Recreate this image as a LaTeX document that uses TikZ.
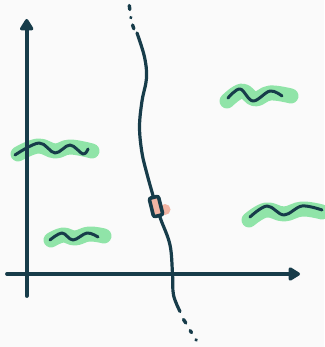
\documentclass[tikz,border=0pt]{standalone}
\usetikzlibrary{arrows.meta}
\definecolor{ink}{HTML}{173C4A}
\definecolor{hl}{HTML}{90E4A8}
\definecolor{pinkc}{HTML}{F3B5A4}
\definecolor{bg}{HTML}{FAFAFA}
\tikzset{
  axis/.style={ink, line width=3.8pt, line cap=round, -{Triangle[length=13pt,width=15pt,round]}},
  curve/.style={ink, line width=3.2pt, line cap=round},
  glow/.style={hl, line width=15pt, line cap=round, line join=round},
  wave/.style={ink, line width=3pt, line cap=round, line join=round},
  dotseg/.style={ink, line width=3.4pt, line cap=round},
}
\begin{document}
\begin{tikzpicture}[x=1pt,y=-1pt]
\fill[bg] (0,0) rectangle (324,347);
\useasboundingbox (0,0) rectangle (324,347);
% axes
\coordinate (yb) at (26.7,296);
\coordinate (yt) at (26.7,19);
\coordinate (xl) at (7,274);
\coordinate (xr) at (300,274);
% highlights
\draw[glow] plot[smooth, tension=0.7] coordinates {(227,101) (242,91) (255,99) (270,93) (291,96)};
\draw[glow] plot[smooth, tension=0.7] coordinates {(249,220) (266,210) (284,214) (302,209) (322,212)};
\draw[glow] plot[smooth, tension=0.7] coordinates {(18,154) (38,146) (55,151) (70,147) (92,151)};
\draw[glow] plot[smooth, tension=0.7] coordinates {(51,240) (63,235) (75,238) (89,234) (104,236)};
% waves
\draw[wave] plot[smooth, tension=0.6] coordinates {(228,98) (240,89) (253,101) (270,91) (282,96)};
\draw[wave] plot[smooth, tension=0.6] coordinates {(250,217) (267,206) (284,215) (302,206) (322,210)};
\draw[wave] plot[smooth, tension=0.6] coordinates {(15,155) (39,143) (55,153) (70,145) (83,154) (88,149)};
\draw[wave] plot[smooth, tension=0.6] coordinates {(50,240) (62,233) (73,240) (87,233) (98,237)};
% axes drawn
\draw[axis] (yb) -- (yt);
\draw[axis] (xl) -- (xr);
% curve
\draw[curve] plot[smooth, tension=0.6] coordinates {(137,33) (144.5,57) (146.5,78) (142,101) (139.5,127) (142,153) (147,174) (152,192) (156,206) (161,220) (170,245) (172.5,274) (173.5,295) (180,311.5)};
% dotted ends
\draw[dotseg] (129.3,5.5) -- (129.8,9.5);
\draw[dotseg] (130.8,17.5) -- (130.9,17.7);
\draw[dotseg] (132.6,25) -- (133.8,28.8);
\draw[dotseg] (183.5,319.5) -- (185.8,323);
\draw[dotseg] (190.2,330.6) -- (191.5,332.6);
\draw[dotseg] (196,339.8) -- (196.2,340.1);
% box
\fill[pinkc] (165,209.5) circle (5.5);
\node[draw=ink, fill=pinkc, line width=3.6pt, rounded corners=2pt, minimum width=9.5pt, minimum height=19pt, inner sep=0pt, rotate=14] (box) at (156,206.5) {};
\end{tikzpicture}
\end{document}
